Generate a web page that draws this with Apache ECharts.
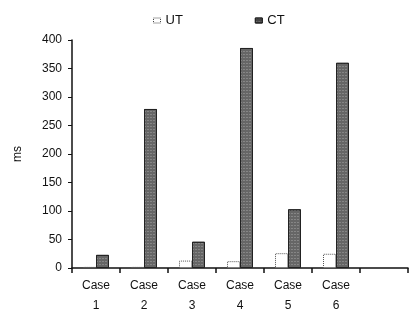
<!DOCTYPE html>
<html><head><meta charset="utf-8">
<script src="https://cdn.jsdelivr.net/npm/echarts@6/dist/echarts.min.js"></script>
<style>html,body{margin:0;padding:0;background:#fff}#c{width:416px;height:326px}</style>
</head><body><div id="c"></div>
<script>
const categories = ['Case\n1','Case\n2','Case\n3','Case\n4','Case\n5','Case\n6',''];
const utValues = [2, 2, 13, 12, 26, 25, null];
const ctValues = [23, 279, 46, 386, 103, 360, null];
const yTicks = [0, 50, 100, 150, 200, 250, 300, 350, 400];

const chart = echarts.init(document.getElementById('c'));
chart.setOption({
  animation: false,
  backgroundColor: '#fff',
  textStyle: { fontFamily: 'Liberation Sans, Arial, sans-serif', color: '#111' },
  legend: {
    top: 9, left: 148, itemGap: 72, itemWidth: 7, itemHeight: 5, icon: 'rect',
    textStyle: { fontSize: 13, color: '#111' },
    data: [
      { name: 'UT', itemStyle: { color: '#fff', borderColor: '#444', borderWidth: 1, borderType: 'dotted' } },
      { name: 'CT', itemStyle: { color: '#444', borderColor: '#222', borderWidth: 1 } }
    ]
  },
  grid: { left: 72, right: 8, top: 40, bottom: 58 },
  xAxis: {
    type: 'category', data: categories,
    axisLine: { lineStyle: { color: '#111', width: 1.5 } },
    axisTick: { show: true, length: 5, lineStyle: { color: '#111', width: 1.5 } },
    axisLabel: { color: '#111', fontSize: 12, lineHeight: 20, margin: 8 }
  },
  yAxis: {
    type: 'value', min: 0, max: 400, interval: 50,
    name: 'ms', nameLocation: 'middle', nameGap: 48, nameRotate: 90,
    nameTextStyle: { fontSize: 12, color: '#111' },
    axisLine: { show: true, lineStyle: { color: '#111', width: 1.5 } },
    axisTick: { show: true, length: 4, lineStyle: { color: '#111' } },
    splitLine: { show: false },
    axisLabel: { color: '#111', fontSize: 12, margin: 10,
      formatter: v => yTicks.includes(v) ? String(v) : '' }
  },
  series: [
    { name: 'UT', type: 'bar', data: utValues, barWidth: 13, barGap: '0%',
      itemStyle: { color: '#fff', borderColor: '#555', borderWidth: 1, borderType: 'dotted' } },
    { name: 'CT', type: 'bar', data: ctValues, barWidth: 13,
      itemStyle: { color: '#666', borderColor: '#222', borderWidth: 1,
        decal: { symbol: 'rect', symbolSize: 0.6, dashArrayX: [2, 1], dashArrayY: [1, 2], color: 'rgba(255,255,255,0.7)', rotation: 0 } } }
  ]
});
</script></body></html>
